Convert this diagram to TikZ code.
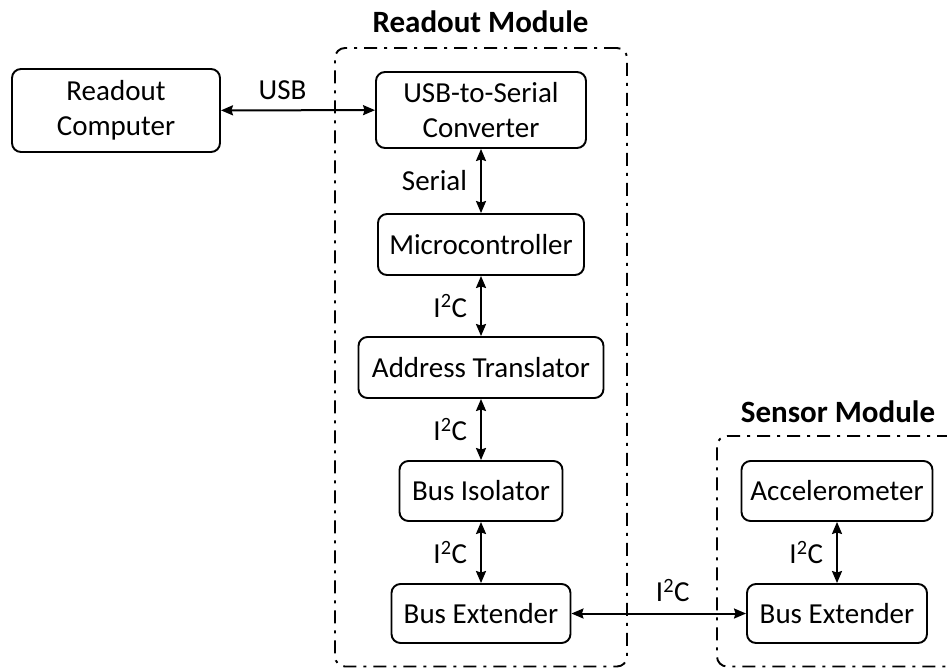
\documentclass[tikz,border=0pt]{standalone}
\usepackage{fontspec}
\setmainfont{Carlito}
\usetikzlibrary{arrows.meta}
\begin{document}
\begin{tikzpicture}[x=1pt,y=-1pt,
  txt/.style={font=\fontsize{29}{35}\selectfont},
  box/.style={txt, draw, line width=1.9pt, rounded corners=9pt, align=center, inner sep=0pt},
  biarrow/.style={line width=2pt, {Stealth[length=12pt,width=10pt,inset=1.5pt]}-{Stealth[length=12pt,width=10pt,inset=1.5pt]}},
  lbl/.style={txt, inner sep=0pt},
  group/.style={draw, line width=1.9pt, rounded corners=10pt,
    dash pattern=on 13pt off 7pt on 3pt off 7pt, inner sep=0pt},
  grouptitle/.style={font=\fontsize{31}{35}\selectfont\bfseries, inner sep=0pt, anchor=base}]
\useasboundingbox (0,0) rectangle (947,667);
\clip (0,0) rectangle (947,667);

% module outlines
\node[group, minimum width=292pt, minimum height=618.5pt] (readoutmod) at (481,357.25) {};
\node[group, minimum width=243pt, minimum height=230.5pt] (sensormod) at (838.5,551.25) {};
\node[grouptitle] (readouttitle) at (480.5,32) {Readout Module};
\node[grouptitle] (sensortitle) at (838,422) {Sensor Module};

% blocks
\node[box, minimum width=208pt, minimum height=83pt] (comp) at (116,110.5) {Readout\\Computer};
\node[box, minimum width=210pt, minimum height=76pt] (conv) at (481,110) {USB-to-Serial\\Converter};
\node[box, minimum width=206pt, minimum height=61pt] (mcu) at (481,244.5) {Microcontroller};
\node[box, minimum width=245pt, minimum height=61pt] (addr) at (481,367.5) {Address Translator};
\node[box, minimum width=163pt, minimum height=60pt] (iso) at (481,491) {Bus Isolator};
\node[box, minimum width=179pt, minimum height=59pt] (extl) at (481,613.5) {Bus Extender};
\node[box, minimum width=191pt, minimum height=60pt] (acc) at (837,491) {Accelerometer};
\node[box, minimum width=180pt, minimum height=59pt] (extr) at (837,613.5) {Bus Extender};

% links
\draw[biarrow] (comp) -- node[lbl, above=10pt, pos=0.40] {USB} (conv);
\draw[biarrow] (conv) -- node[lbl, left=13pt] {Serial} (mcu);
\draw[biarrow] (mcu) -- node[lbl, left=13pt] {I\textsuperscript{2}C} (addr);
\draw[biarrow] (addr) -- node[lbl, left=13pt] {I\textsuperscript{2}C} (iso);
\draw[biarrow] (iso) -- node[lbl, left=13pt] {I\textsuperscript{2}C} (extl);
\draw[biarrow] (extl) -- node[lbl, above=11pt, pos=0.58] {I\textsuperscript{2}C} (extr);
\draw[biarrow] (acc) -- node[lbl, left=13pt] {I\textsuperscript{2}C} (extr);
\end{tikzpicture}
\end{document}
